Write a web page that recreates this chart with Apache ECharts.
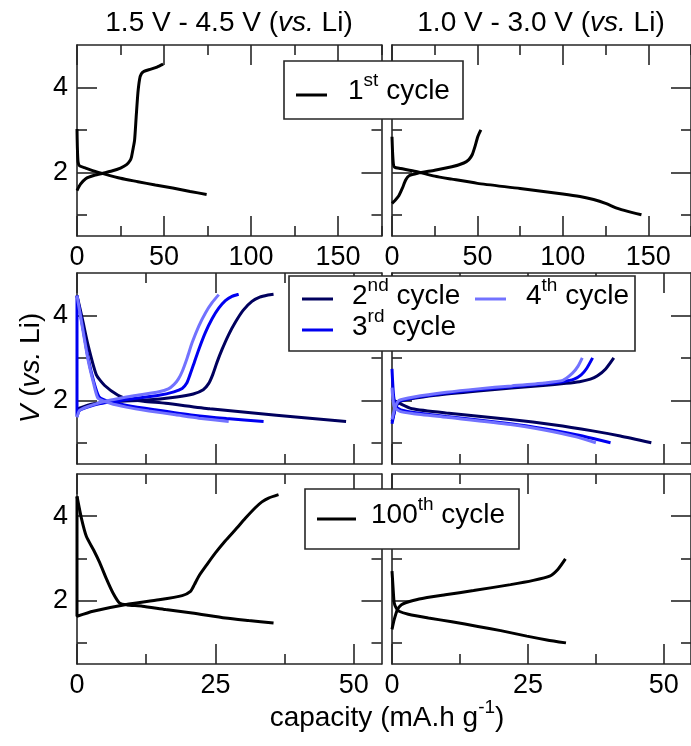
<!DOCTYPE html>
<html>
<head>
<meta charset="utf-8">
<script src="https://cdn.jsdelivr.net/npm/echarts@6/dist/echarts.min.js"></script>
<style>
html,body{margin:0;padding:0;background:#fff;}
#chart{width:691px;height:746px;}
</style>
</head>
<body>
<div id="chart"></div>
<script>
// ---------- DATA (capacity mA.h/g, voltage V) ----------
// Top row: 1st cycle
const tl_cycle1_discharge = [[0,3.02],[0.2,2.6],[0.6,2.25],[1.5,2.15],[5,2.1],[10,2.03],[15,1.97],[25,1.86],[35,1.78],[45,1.7],[55,1.63],[65,1.55],[74.5,1.48]];
const tl_cycle1_charge = [[0,1.57],[2,1.72],[5,1.85],[10,1.93],[15,1.98],[20,2.03],[25,2.1],[28.5,2.18],[30.5,2.28],[31.3,2.36],[32.2,2.55],[33.1,2.76],[34,3.3],[35,3.87],[36,4.2],[37,4.32],[38.5,4.38],[42.5,4.43],[46,4.48],[49.5,4.55]];
const tr_cycle1_discharge = [[0,2.84],[0.3,2.5],[0.8,2.2],[1.5,2.12],[5,2.09],[14,2.02],[25,1.91],[35,1.84],[50,1.74],[75,1.62],[100,1.49],[110,1.43],[118,1.36],[125,1.27],[132,1.15],[138,1.08],[146,1.0]];
const tr_cycle1_charge = [[0,1.27],[2,1.35],[4,1.45],[6,1.62],[8,1.82],[10,1.92],[15,1.98],[25,2.05],[35,2.13],[42,2.22],[45,2.3],[47,2.42],[48.5,2.6],[50.2,2.84],[52,3.0]];
// Middle row: 2nd, 3rd, 4th cycles
const ml_cycle2_discharge = [[0,4.47],[1,3.9],[2,3.3],[3.5,2.6],[5,2.35],[7.4,2.12],[9,2.04],[12,1.98],[16,1.93],[24,1.8],[36,1.65],[48.6,1.5]];
const ml_cycle2_charge = [[0,1.8],[3,1.92],[8,1.98],[12,2.0],[18,2.08],[21,2.15],[22.8,2.25],[23.8,2.4],[24.5,2.6],[25.3,2.9],[26.2,3.2],[27.4,3.55],[28.6,3.84],[30,4.12],[31.6,4.33],[33,4.43],[34.5,4.48],[35.5,4.5]];
const ml_cycle3_discharge = [[0,4.47],[1,3.75],[2,3.0],[3,2.45],[4,2.08],[6,1.96],[9,1.88],[14,1.78],[21,1.65],[27,1.57],[33.7,1.5]];
const ml_cycle3_charge = [[0,4.45],[0,1.62],[0.5,1.77],[4,1.92],[9,2.02],[14.8,2.12],[17.5,2.2],[19,2.28],[19.8,2.4],[20.4,2.6],[21.2,2.9],[22,3.2],[23.2,3.6],[24.4,3.92],[25.6,4.17],[26.8,4.35],[28,4.45],[29.2,4.5]];
const ml_cycle4_discharge = [[0,4.47],[1,3.7],[2,2.95],[3,2.4],[3.8,2.05],[6,1.93],[8.9,1.84],[13,1.75],[17.8,1.66],[22,1.58],[27.4,1.5]];
const ml_cycle4_charge = [[0,1.6],[0.5,1.77],[3,1.9],[5.9,2.0],[10,2.1],[14.8,2.2],[16.5,2.27],[17.5,2.37],[18.3,2.5],[19,2.68],[19.9,3.0],[20.8,3.36],[22,3.75],[23.2,4.06],[24.4,4.3],[25.6,4.49]];
const mr_cycle2_discharge = [[0,2.02],[1.5,1.92],[3.7,1.8],[10,1.7],[21.8,1.55],[30,1.42],[36.9,1.28],[42,1.16],[47.7,1.0]];
const mr_cycle2_charge = [[0,1.5],[0.6,1.8],[1.3,1.96],[3.7,2.04],[8,2.12],[15.8,2.22],[22,2.29],[27.8,2.35],[32,2.4],[34.5,2.44],[36.5,2.5],[37.8,2.58],[39.3,2.74],[40.8,3.0]];
const mr_cycle3_discharge = [[0,2.74],[0.3,2.1],[0.8,1.85],[2,1.76],[3.7,1.72],[10,1.62],[21.8,1.45],[28,1.33],[33.9,1.19],[37,1.1],[40.2,1.0]];
const mr_cycle3_charge = [[0,1.45],[0.6,1.8],[1.3,1.98],[4,2.06],[10,2.17],[15.8,2.25],[22,2.32],[28,2.39],[31.4,2.44],[33.5,2.5],[34.8,2.6],[35.8,2.75],[36.9,3.0]];
const mr_cycle4_discharge = [[0,2.3],[0.4,1.85],[1.5,1.74],[3.7,1.69],[10,1.6],[21.8,1.43],[28,1.3],[33.9,1.14],[37.5,1.0]];
const mr_cycle4_charge = [[0,1.55],[0.6,1.85],[1.3,2.0],[4,2.08],[10,2.19],[15.8,2.27],[22,2.34],[28,2.41],[31.4,2.47],[33.2,2.64],[34.2,2.8],[35,3.0]];
// Bottom row: 100th cycle
const bl_cycle100_discharge = [[0,4.47],[0.8,3.95],[1.7,3.52],[3,3.2],[4.1,2.9],[5.3,2.52],[6.5,2.18],[7.7,1.94],[9,1.9],[11.8,1.87],[16,1.79],[20.8,1.71],[26.8,1.59],[31,1.53],[35.5,1.47]];
const bl_cycle100_charge = [[0,4.47],[0,1.63],[2.9,1.75],[8.9,1.91],[14.8,2.02],[19,2.12],[20.5,2.22],[21.2,2.38],[22,2.58],[23.5,2.86],[25,3.13],[26.8,3.42],[28.6,3.68],[30.4,3.95],[32.2,4.2],[33.4,4.34],[34.6,4.43],[36.4,4.51]];
const br_cycle100_discharge = [[0,2.7],[0.2,2.3],[0.4,1.95],[0.8,1.82],[1.3,1.75],[3,1.68],[6.7,1.59],[11,1.5],[15.8,1.39],[20,1.29],[24.8,1.16],[28.5,1.07],[32,1.0]];
const br_cycle100_charge = [[0,1.32],[0.4,1.55],[1.0,1.79],[1.7,1.9],[2.5,1.95],[5,2.04],[9.8,2.14],[15,2.24],[21.8,2.38],[26,2.48],[29,2.58],[30.5,2.74],[31.9,2.99]];

// ---------- AXIS TICKS ----------
const yRange = [0.5, 5];
const yMajorTicks = [2, 4];
const yMinorTicks = [1, 3];
const xRangeTop = [0, 175];
const xMajorTop = [0, 50, 100, 150];
const xMinorTop = [25, 75, 125, 175];
const xRangeLow = [0, 55];
const xMajorLow = [0, 25, 50];
const xMinorLow = [12.5, 37.5];

const titles = ['1.5 V - 4.5 V (', '1.0 V - 3.0 V ('];
const legendLabels = ['1', '2', '3', '4', '100'];

const COL_K = '#000000';
const COL_2 = '#00005e';
const COL_3 = '#0000f0';
const COL_4 = '#7272ff';
const FONT = '"Liberation Sans", Arial, Helvetica, sans-serif';
const FRAME = '#262626';

// ---------- LAYOUT ----------
const gridDefs = [
  {left: 77, top: 45, width: 304.5, height: 191},
  {left: 392, top: 45, width: 304.5, height: 191},
  {left: 77, top: 273, width: 304.5, height: 191},
  {left: 392, top: 273, width: 304.5, height: 191},
  {left: 77, top: 474, width: 304.5, height: 190},
  {left: 392, top: 474, width: 304.5, height: 190}
];

const xAxes = [], yAxes = [];
const primaryX = [], primaryY = [];
function tickLine(){ return {color: FRAME, width: 1.6}; }
gridDefs.forEach((g, gi) => {
  const row = Math.floor(gi / 2);
  const col = gi % 2;
  const xr = row === 0 ? xRangeTop : xRangeLow;
  const xMaj = row === 0 ? xMajorTop : xMajorLow;
  const xMin = row === 0 ? xMinorTop : xMinorLow;
  const showLab = row !== 1;
  ['bottom', 'top'].forEach(pos => {
    [true, false].forEach(major => {
      const ax = {
        type: 'value', gridIndex: gi, position: pos, min: xr[0], max: xr[1],
        axisLine: {show: major, onZero: false, lineStyle: {color: FRAME, width: 1.6}},
        axisTick: {show: true, inside: true, length: major ? 20 : 10, customValues: major ? xMaj : xMin, lineStyle: tickLine()},
        axisLabel: {show: major && pos === 'bottom' && showLab, customValues: xMaj, margin: 8,
          fontSize: 27, color: '#000', fontFamily: FONT},
        splitLine: {show: false}
      };
      if (pos === 'bottom' && major) primaryX.push(xAxes.length);
      xAxes.push(ax);
    });
  });
  ['left', 'right'].forEach(pos => {
    [true, false].forEach(major => {
      const ax = {
        type: 'value', gridIndex: gi, position: pos, min: yRange[0], max: yRange[1],
        axisLine: {show: major, onZero: false, lineStyle: {color: FRAME, width: 1.6}},
        axisTick: {show: true, inside: true, length: major ? 20 : 10, customValues: major ? yMajorTicks : yMinorTicks, lineStyle: tickLine()},
        axisLabel: {show: major && pos === 'left' && col === 0, customValues: yMajorTicks, margin: 9,
          fontSize: 27, color: '#000', fontFamily: FONT},
        splitLine: {show: false}
      };
      if (pos === 'left' && major) primaryY.push(yAxes.length);
      yAxes.push(ax);
    });
  });
});

const seriesSpec = [
  [0, tl_cycle1_discharge, COL_K], [0, tl_cycle1_charge, COL_K],
  [1, tr_cycle1_discharge, COL_K], [1, tr_cycle1_charge, COL_K],
  [2, ml_cycle2_discharge, COL_2], [2, ml_cycle2_charge, COL_2],
  [2, ml_cycle3_discharge, COL_3], [2, ml_cycle3_charge, COL_3],
  [2, ml_cycle4_discharge, COL_4], [2, ml_cycle4_charge, COL_4],
  [3, mr_cycle2_discharge, COL_2], [3, mr_cycle2_charge, COL_2],
  [3, mr_cycle3_discharge, COL_3], [3, mr_cycle3_charge, COL_3],
  [3, mr_cycle4_discharge, COL_4], [3, mr_cycle4_charge, COL_4],
  [4, bl_cycle100_discharge, COL_K], [4, bl_cycle100_charge, COL_K],
  [5, br_cycle100_discharge, COL_K], [5, br_cycle100_charge, COL_K]
];
const series = seriesSpec.map(([gi, data, color]) => ({
  type: 'line', xAxisIndex: primaryX[gi], yAxisIndex: primaryY[gi],
  data: data, showSymbol: false, smooth: 0.2,
  lineStyle: {color: color, width: 3}, itemStyle: {color: color},
  silent: true, z: 3
}));

// ---------- GRAPHIC TEXT / LEGENDS ----------
const rich = {
  n: {fontSize: 28, fontFamily: FONT, fill: '#000', lineHeight: 40},
  i: {fontSize: 28, fontFamily: FONT, fontStyle: 'italic', fill: '#000', lineHeight: 40},
  s: {fontSize: 19, fontFamily: FONT, fill: '#000', lineHeight: 18, verticalAlign: 'top'}
};
function txt(text, x, y, align, rot) {
  return {
    type: 'text', z: 100, x: x, y: y, rotation: rot || 0,
    style: {text: text, x: 0, y: 0, align: align || 'left', verticalAlign: 'middle', rich: rich, fontSize: 28, fontFamily: FONT, fill: '#000'}
  };
}
function legendBox(x, y, w, h) {
  return {type: 'rect', z: 90, shape: {x: x, y: y, width: w, height: h},
    style: {fill: '#fff', stroke: FRAME, lineWidth: 1.6}};
}
function legendLine(x1, x2, y, color) {
  return {type: 'line', z: 95, shape: {x1: x1, y1: y, x2: x2, y2: y}, style: {stroke: color, lineWidth: 3}};
}
const graphic = [
  txt('{n|' + titles[0] + '}{i|vs.}{n| Li)}', 229, 23, 'center'),
  txt('{n|' + titles[1] + '}{i|vs.}{n| Li)}', 541, 23, 'center'),
  txt('{i|V}{n| (}{i|vs.}{n| Li)}', 31, 368, 'center', Math.PI / 2),
  txt('{n|capacity (mA.h g}{s|-1}{n|)}', 387, 718, 'center'),
  // legend top
  legendBox(284, 61, 179, 58),
  legendLine(296, 327, 95, COL_K),
  txt('{n|' + legendLabels[0] + '}{s|st}{n| cycle}', 348, 91, 'left'),
  // legend middle
  legendBox(289, 276, 346, 75),
  legendLine(302, 333, 299, COL_2),
  txt('{n|' + legendLabels[1] + '}{s|nd}{n| cycle}', 352, 296, 'left'),
  legendLine(475, 506, 299, COL_4),
  txt('{n|' + legendLabels[3] + '}{s|th}{n| cycle}', 526, 296, 'left'),
  legendLine(302, 333, 330, COL_3),
  txt('{n|' + legendLabels[2] + '}{s|rd}{n| cycle}', 352, 327, 'left'),
  // legend bottom
  legendBox(305, 489, 214, 60),
  legendLine(317, 356, 519, COL_K),
  txt('{n|' + legendLabels[4] + '}{s|th}{n| cycle}', 371, 515, 'left')
];

const chart = echarts.init(document.getElementById('chart'), null, {renderer: 'canvas'});
chart.setOption({
  animation: false,
  backgroundColor: '#fff',
  grid: gridDefs.map(g => Object.assign({containLabel: false}, g)),
  xAxis: xAxes,
  yAxis: yAxes,
  series: series,
  graphic: graphic
});
</script>
</body>
</html>
